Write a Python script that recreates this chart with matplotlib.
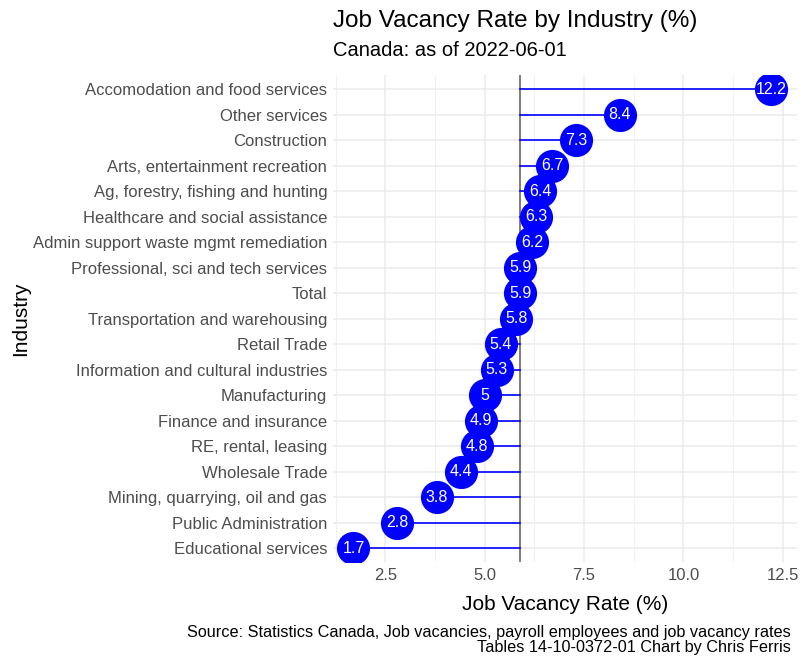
import matplotlib.pyplot as plt

plt.rcParams['font.family'] = ['Liberation Sans', 'DejaVu Sans']

# data
industries = ['Accomodation and food services', 'Other services', 'Construction',
              'Arts, entertainment recreation', 'Ag, forestry, fishing and hunting',
              'Healthcare and social assistance', 'Admin support waste mgmt remediation',
              'Professional, sci and tech services', 'Total', 'Transportation and warehousing',
              'Retail Trade', 'Information and cultural industries', 'Manufacturing',
              'Finance and insurance', 'RE, rental, leasing', 'Wholesale Trade',
              'Mining, quarrying, oil and gas', 'Public Administration', 'Educational services']
rates = [12.2, 8.4, 7.3, 6.7, 6.4, 6.3, 6.2, 5.9, 5.9, 5.8, 5.4, 5.3, 5.0, 4.9, 4.8, 4.4, 3.8, 2.8, 1.7]
total_rate = 5.9

fig = plt.figure(figsize=(8, 6.66), dpi=100)
ax = fig.add_axes([0.416, 0.156, 0.58, 0.731])

ypos = list(range(len(industries)))[::-1]

ax.set_xticks([2.5, 5.0, 7.5, 10.0, 12.5])
ax.set_xticks([1.25, 3.75, 6.25, 8.75, 11.25], minor=True)
ax.grid(True, which='major', color='#EBEBEB', linewidth=1.1)
ax.grid(True, which='minor', axis='x', color='#F0F0F0', linewidth=0.8)
ax.set_axisbelow(True)

ax.axvline(total_rate, color='#666666', linewidth=1.2, zorder=2)
for y, r in zip(ypos, rates):
    ax.plot([total_rate, r], [y, y], color='blue', linewidth=1.2, zorder=3)
ax.scatter(rates, ypos, s=570, color='blue', zorder=4, linewidths=0)
for y, r in zip(ypos, rates):
    lab = f'{r:g}'
    ax.text(r, y, lab, color='white', ha='center', va='center', fontsize=11.5, zorder=5)

ax.set_xlim(1.18, 12.85)
ax.set_ylim(-0.55, len(industries) - 0.45)
ax.set_yticks(ypos)
ax.set_yticklabels(industries)
ax.tick_params(axis='both', which='both', length=0, labelsize=12, labelcolor='#4D4D4D', pad=4)
for s in ax.spines.values():
    s.set_visible(False)

ax.set_xlabel('Job Vacancy Rate (%)', fontsize=15, labelpad=9)
ax.set_ylabel('Industry', fontsize=15, labelpad=2)

fig.text(0.416, 0.968, 'Job Vacancy Rate by Industry (%)', fontsize=17.5, ha='left', va='center')
fig.text(0.416, 0.924, 'Canada: as of 2022-06-01', fontsize=14.5, ha='left', va='center')
fig.text(0.988, 0.017, 'Source: Statistics Canada, Job vacancies, payroll employees and job vacancy rates\n'
         'Tables 14-10-0372-01 Chart by Chris Ferris', fontsize=11.7, ha='right', va='bottom',
         multialignment='right', linespacing=1.0)

fig.savefig('out.png', dpi=100, facecolor='white')
